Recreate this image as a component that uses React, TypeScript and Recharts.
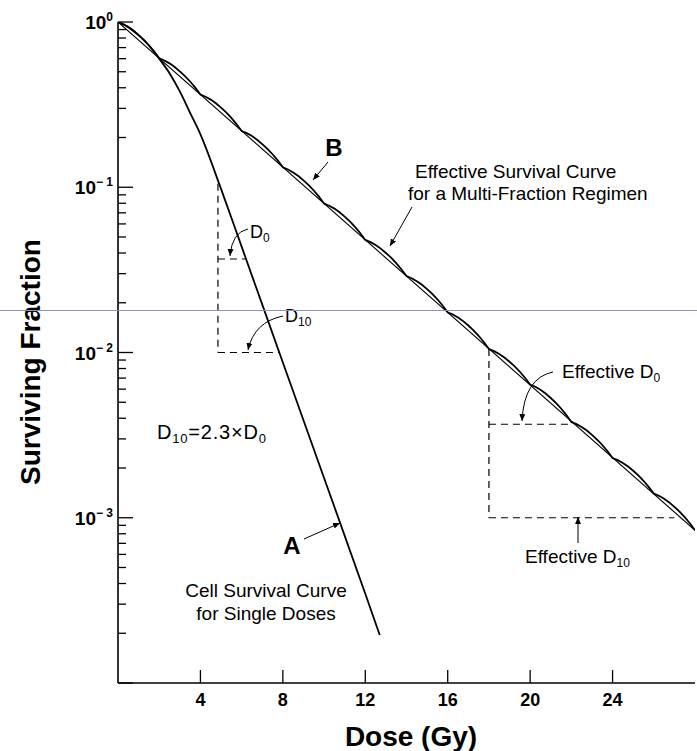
import React from 'react';
import { LineChart, Line, XAxis, YAxis, ReferenceLine } from 'recharts';

// single-dose survival curve (A)
const doseA = [0, 0.5, 1, 1.5, 2, 2.5, 3, 3.5, 4, 5, 6, 8, 10, 12, 12.7];
const survA = [1, 0.931, 0.832, 0.721, 0.6, 0.49, 0.38, 0.282, 0.209, 0.0977, 0.0437, 0.0087, 0.00174, 0.000347, 0.000195];

// multi-fraction curve (B): survival at the end of each 2 Gy fraction
const fractionDoses = [0, 2, 4, 6, 8, 10, 12, 14, 16, 18, 20, 22, 24, 26, 28];
const fractionSurv = [1, 0.603, 0.364, 0.219, 0.132, 0.0797, 0.048, 0.029, 0.0175, 0.0105, 0.0064, 0.0038, 0.0023, 0.0014, 0.00084];
// shape of one scallop: dose offset inside a fraction and share of its log drop
const arcOffsets = [0, 0.25, 0.5, 0.75, 1, 1.25, 1.5, 1.75];
const arcShape = [0, 0.06, 0.14, 0.24, 0.36, 0.49, 0.64, 0.81];

const xTicks = [4, 8, 12, 16, 20, 24];
const majorY = [1, 0.1, 0.01, 0.001, 0.0001];
const majorLabels = ['0', '\u2212 1', '\u2212 2', '\u2212 3', ''];
const minorMult = [2, 3, 4, 5, 6, 7, 8, 9];

const aData = doseA.map((d, i) => ({ d, s: survA[i] }));

const bData: { d: number; s: number }[] = [];
fractionDoses.slice(0, -1).forEach((d0, i) => {
  const l0 = Math.log10(fractionSurv[i]);
  const l1 = Math.log10(fractionSurv[i + 1]);
  arcOffsets.forEach((o, j) => {
    bData.push({ d: d0 + o, s: Math.pow(10, l0 + arcShape[j] * (l1 - l0)) });
  });
});
bData.push({ d: fractionDoses[fractionDoses.length - 1], s: fractionSurv[fractionSurv.length - 1] });

const effData = [
  { d: fractionDoses[0], s: fractionSurv[0] },
  { d: fractionDoses[fractionDoses.length - 1], s: fractionSurv[fractionSurv.length - 1] },
];

const yTicks = [...majorY];
majorY.slice(1).forEach((m) => minorMult.forEach((k) => yTicks.push(m * k)));

const FONT = '"Liberation Sans", Arial, Helvetica, sans-serif';

const XTick = (props: any) => {
  const { x, y, payload } = props;
  return (
    <g>
      <line x1={x} x2={x} y1={y} y2={y - 13} stroke="#000" strokeWidth={1.3} />
      <text x={x} y={y + 23} textAnchor="middle" fontFamily={FONT} fontWeight="bold" fontSize={18} fill="#000">
        {payload.value}
      </text>
    </g>
  );
};

const YTick = (props: any) => {
  const { x, y, payload } = props;
  const v = payload.value;
  const idx = majorY.findIndex((m) => Math.abs(m - v) / m < 1e-6);
  const major = idx >= 0;
  return (
    <g>
      <line x1={x} x2={x + (major ? 15 : 8)} y1={y} y2={y} stroke="#000" strokeWidth={1.3} />
      {major && majorLabels[idx] && (
        <text x={x - 5} y={y + 7} textAnchor="end" fontFamily={FONT} fontWeight="bold" fontSize={19} fill="#000">
          10
          <tspan dy={-8} fontSize={12}>{majorLabels[idx]}</tspan>
        </text>
      )}
    </g>
  );
};

const dash = '7 5';

export default function App() {
  return (
    <div style={{ position: 'absolute', left: 0, top: 0, width: 697, height: 751, background: '#fff' }}>
      <LineChart width={697} height={751} margin={{ top: 22, right: 2, bottom: 67, left: 117 }}>
        <XAxis
          dataKey="d"
          type="number"
          domain={[0, 28]}
          ticks={xTicks}
          height={1}
          tickSize={0}
          tickMargin={0}
          tick={<XTick />}
          tickLine={false}
          axisLine={{ stroke: '#000', strokeWidth: 1.6 }}
          allowDataOverflow
        />
        <YAxis
          scale="log"
          type="number"
          domain={[0.0001, 1]}
          ticks={yTicks}
          width={1}
          tickSize={0}
          tickMargin={0}
          tick={<YTick />}
          tickLine={false}
          interval={0}
          axisLine={{ stroke: '#000', strokeWidth: 1.6 }}
          allowDataOverflow
        />
        <ReferenceLine segment={[{ x: 4.85, y: 0.105 }, { x: 4.85, y: 0.01 }]} stroke="#000" strokeDasharray={dash} strokeWidth={1.2} />
        <ReferenceLine segment={[{ x: 4.85, y: 0.0368 }, { x: 6.2, y: 0.0368 }]} stroke="#000" strokeDasharray={dash} strokeWidth={1.2} />
        <ReferenceLine segment={[{ x: 4.85, y: 0.01 }, { x: 7.82, y: 0.01 }]} stroke="#000" strokeDasharray={dash} strokeWidth={1.2} />
        <ReferenceLine segment={[{ x: 18, y: 0.0105 }, { x: 18, y: 0.001 }]} stroke="#000" strokeDasharray={dash} strokeWidth={1.2} />
        <ReferenceLine segment={[{ x: 18, y: 0.00368 }, { x: 22, y: 0.00368 }]} stroke="#000" strokeDasharray={dash} strokeWidth={1.2} />
        <ReferenceLine segment={[{ x: 18, y: 0.001 }, { x: 27, y: 0.001 }]} stroke="#000" strokeDasharray={dash} strokeWidth={1.2} />
        <Line data={effData} dataKey="s" type="linear" stroke="#000" strokeWidth={1.1} dot={false} isAnimationActive={false} />
        <Line data={bData} dataKey="s" type="linear" stroke="#000" strokeWidth={1.8} dot={false} isAnimationActive={false} />
        <Line data={aData} dataKey="s" type="monotone" stroke="#000" strokeWidth={1.8} dot={false} isAnimationActive={false} />
      </LineChart>

      <svg width={697} height={751} style={{ position: 'absolute', left: 0, top: 0, pointerEvents: 'none' }} fontFamily={FONT}>
        <defs>
          <marker id="ah" markerWidth="8" markerHeight="8" refX="7" refY="4" orient="auto" markerUnits="userSpaceOnUse">
            <path d="M0,1 L7,4 L0,7 Z" fill="#000" />
          </marker>
        </defs>
        {/* axis titles */}
        <text x={0} y={0} transform="translate(40,362) rotate(-90)" textAnchor="middle" fontWeight="bold" fontSize={28} fill="#000">
          Surviving Fraction
        </text>
        <text x={411} y={746} textAnchor="middle" fontWeight="bold" fontSize={28} fill="#000">
          Dose (Gy)
        </text>

        {/* curve B */}
        <text x={334} y={156} textAnchor="middle" fontWeight="bold" fontSize={24} fill="#000">B</text>
        <line x1={328} y1={162} x2={313} y2={180} stroke="#000" strokeWidth={1} markerEnd="url(#ah)" />
        <text x={415} y={178} fontSize={19} fill="#000">Effective Survival Curve</text>
        <text x={408} y={200} fontSize={19} fill="#000">for a Multi-Fraction Regimen</text>
        <line x1={412} y1={207} x2={390} y2={246} stroke="#000" strokeWidth={1} markerEnd="url(#ah)" />

        {/* D0 / D10 on curve A */}
        <text x={250} y={238} fontSize={18} fill="#000">
          D<tspan dy={4} fontSize={12}>0</tspan>
        </text>
        <path d="M248,229 Q232,232 230,256" fill="none" stroke="#000" strokeWidth={1} markerEnd="url(#ah)" />
        <text x={285} y={322} fontSize={18} fill="#000">
          D<tspan dy={4} fontSize={12}>10</tspan>
        </text>
        <path d="M283,316 Q254,322 248,350" fill="none" stroke="#000" strokeWidth={1} markerEnd="url(#ah)" />
        <text x={157} y={439} fontSize={20} letterSpacing={0.8} fill="#000">
          D<tspan dy={4} fontSize={13}>10</tspan>
          <tspan dy={-4}>=2.3×D</tspan>
          <tspan dy={4} fontSize={13}>0</tspan>
        </text>

        {/* curve A */}
        <text x={292} y={554} textAnchor="middle" fontWeight="bold" fontSize={24} fill="#000">A</text>
        <line x1={304} y1={539} x2={340} y2={523} stroke="#000" strokeWidth={1} markerEnd="url(#ah)" />
        <text x={266} y={597} textAnchor="middle" fontSize={19} fill="#000">Cell Survival Curve</text>
        <text x={266} y={620} textAnchor="middle" fontSize={19} fill="#000">for Single Doses</text>

        {/* effective D0 / D10 */}
        <text x={562} y={378} fontSize={19} fill="#000">
          Effective D<tspan dy={4} fontSize={12}>0</tspan>
        </text>
        <path d="M553,372 Q524,378 522,421" fill="none" stroke="#000" strokeWidth={1} markerEnd="url(#ah)" />
        <line x1={578} y1={543} x2={578} y2={517} stroke="#000" strokeWidth={1} markerEnd="url(#ah)" />
        <text x={525} y={563} fontSize={19} fill="#000">
          Effective D<tspan dy={4} fontSize={12}>10</tspan>
        </text>
      </svg>
      <div style={{ position: 'absolute', left: 0, top: 310, width: 697, height: 1, background: '#8a8fd0' }} />
    </div>
  );
}
